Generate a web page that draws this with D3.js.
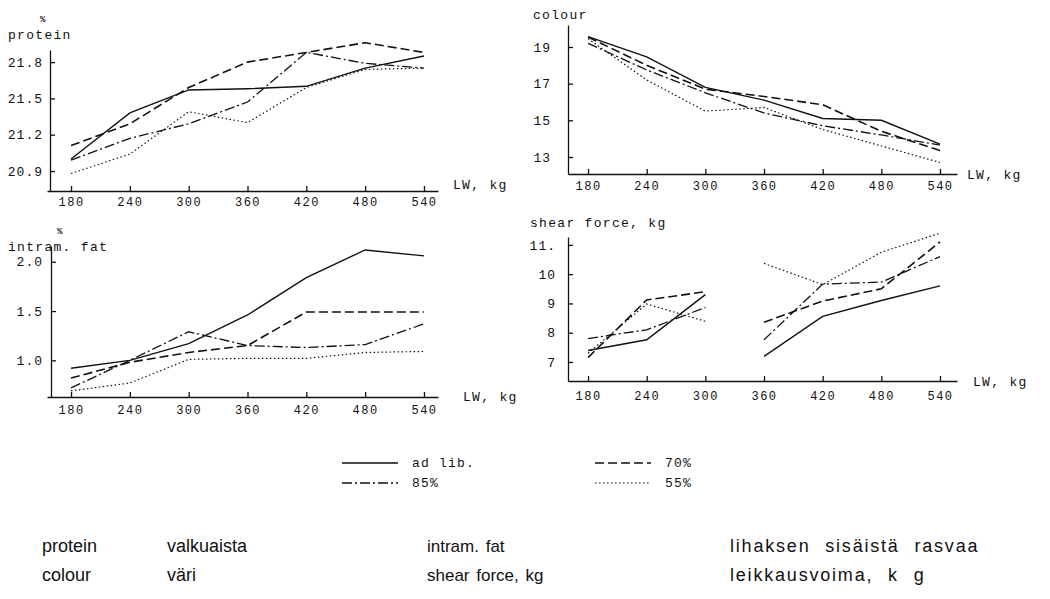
<!DOCTYPE html>
<html><head><meta charset="utf-8">
<script src="https://cdn.jsdelivr.net/npm/d3@7"></script>
<style>body{margin:0;background:#fff}svg{display:block}</style>
</head><body><svg id="c" width="1050" height="599"></svg>
<script>
// ---------- data ----------
const lw = [180, 240, 300, 360, 420, 480, 540];
const seriesNames = ["ad lib.", "70%", "85%", "55%"];

const proteinAdlib = [21.00, 21.38, 21.57, 21.58, 21.60, 21.75, 21.85];
const protein70    = [21.11, 21.29, 21.59, 21.80, 21.88, 21.96, 21.88];
const protein85    = [20.99, 21.17, 21.29, 21.47, 21.88, 21.79, 21.75];
const protein55    = [20.88, 21.04, 21.39, 21.30, 21.59, 21.74, 21.75];

const colourAdlib = [19.57, 18.46, 16.80, 16.10, 15.10, 15.00, 13.70];
const colour70    = [19.54, 18.00, 16.70, 16.30, 15.85, 14.40, 13.35];
const colour85    = [19.20, 17.75, 16.50, 15.40, 14.70, 14.20, 13.65];
const colour55    = [19.45, 17.20, 15.50, 15.70, 14.50, 13.60, 12.70];

const fatAdlib = [0.92, 1.00, 1.17, 1.46, 1.84, 2.12, 2.06];
const fat70    = [0.82, 0.98, 1.08, 1.15, 1.49, 1.49, 1.49];
const fat85    = [0.72, 1.00, 1.29, 1.15, 1.13, 1.16, 1.37];
const fat55    = [0.69, 0.77, 1.01, 1.02, 1.02, 1.08, 1.09];

const shearAdlib = [7.39, 7.76, 9.30, 7.19, 8.56, 9.10, 9.60];
const shear70    = [7.15, 9.12, 9.40, 8.36, 9.08, 9.50, 11.10];
const shear85    = [7.80, 8.10, 8.86, 7.76, 9.66, 9.73, 10.60];
const shear55    = [7.30, 8.98, 8.39, 10.37, 9.64, 10.75, 11.40];
const shearSegments = [[180, 240, 300], [360, 420, 480, 540]];

const proteinTicks = [20.9, 21.2, 21.5, 21.8];
const colourTicks = [13, 15, 17, 19];
const fatTicks = [1.0, 1.5, 2.0];
const shearTicks = [7, 8, 9, 10, 11];
const shearTickLabels = ["7", "8", "9", "10", "11."];

const footLeft = ["protein", "colour"];
const footLeftFi = ["valkuaista", "väri"];
const footRight = ["intram. fat", "shear force, kg"];
const footRightFi = ["lihaksen sisäistä rasvaa", "leikkausvoima, k g"];

// ---------- styles ----------
const MONO = "'Liberation Mono','DejaVu Sans Mono',monospace";
const styles = {
  "ad lib.": {dash: null, w: 1.4},
  "70%": {dash: "9,4", w: 1.6},
  "85%": {dash: "10,3,2,3", w: 1.3},
  "55%": {dash: "1.5,2.5", w: 1.2}
};

const svg = d3.select("#c");

const panels = [
  {title: "protein", pct: true, series: [proteinAdlib, protein70, protein85, protein55],
   ticks: proteinTicks, fmt: d3.format(".1f"), yDom: [20.735, 21.9], yRange: [191, 50],
   xDom: [155.5, 554.3], xRange: [47, 438], ax: 50, yPad: 7, xPad: 6,
   titlePos: [8, 39], pctPos: [40, 22], lwPos: [453, 189]},
  {title: "colour", pct: false, series: [colourAdlib, colour70, colour85, colour55],
   ticks: colourTicks, fmt: d3.format("d"), yDom: [12.07, 20.2], yRange: [174, 25],
   xDom: [159.5, 557.4], xRange: [568, 957], ax: 568, yPad: 17, xPad: 7,
   titlePos: [533, 19], lwPos: [967, 179]},
  {title: "intram. fat", pct: true, series: [fatAdlib, fat70, fat85, fat55],
   ticks: fatTicks, fmt: d3.format(".1f"), yDom: [0.628, 2.16], yRange: [397, 246],
   xDom: [155.5, 554.3], xRange: [47, 438], ax: 51, yPad: 8, xPad: 8,
   titlePos: [8, 251], pctPos: [57, 234], lwPos: [463, 401]},
  {title: "shear force, kg", pct: false, series: [shearAdlib, shear70, shear85, shear55],
   ticks: shearTicks, labels: shearTickLabels, yDom: [6.35, 11.27], yRange: [381, 237],
   xDom: [159.5, 557.4], xRange: [568, 957], ax: 568, yPad: 12, xPad: 10,
   titlePos: [530, 227], lwPos: [973, 386], segments: shearSegments}
];

panels.forEach(p => {
  const x = d3.scaleLinear().domain(p.xDom).range(p.xRange);
  const y = d3.scaleLinear().domain(p.yDom).range(p.yRange);
  const g = svg.append("g");

  // y axis
  const yAxis = d3.axisLeft(y).tickValues(p.ticks).tickSize(-5).tickSizeOuter(0).tickPadding(p.yPad);
  if (p.labels) yAxis.tickFormat((d, i) => p.labels[i]); else yAxis.tickFormat(p.fmt);
  const yg = g.append("g").attr("transform", `translate(${p.ax},0)`).call(yAxis);
  yg.selectAll("text").attr("font-family", MONO).attr("font-size", 13).style("letter-spacing", "1px").attr("fill", "#111");
  yg.selectAll("line,path").attr("stroke", "#111").attr("stroke-width", 1.3);

  // x axis
  const xAxis = d3.axisBottom(x).tickValues(lw).tickFormat(d3.format("d")).tickSize(-5).tickSizeOuter(0).tickPadding(p.xPad);
  const xg = g.append("g").attr("transform", `translate(0,${p.yRange[0]})`).call(xAxis);
  xg.selectAll("text").attr("font-family", MONO).attr("font-size", 12).style("letter-spacing", "1.5px").attr("fill", "#111");
  xg.selectAll("line,path").attr("stroke", "#111").attr("stroke-width", 1.3);

  // labels
  g.append("text").attr("x", p.titlePos[0]).attr("y", p.titlePos[1]).text(p.title)
    .attr("font-family", MONO).attr("font-size", 13).style("letter-spacing", "1.3px").attr("fill", "#111");
  if (p.pct) g.append("text").attr("x", p.pctPos[0]).attr("y", p.pctPos[1]).text("%")
    .attr("font-family", MONO).attr("font-size", 9).attr("font-weight", "bold").attr("fill", "#111");
  g.append("text").attr("x", p.lwPos[0]).attr("y", p.lwPos[1]).text("LW, kg")
    .attr("font-family", MONO).attr("font-size", 13).style("letter-spacing", "1.3px").attr("fill", "#111");

  // lines
  const line = d3.line().x(d => x(d[0])).y(d => y(d[1]));
  const segs = p.segments || [lw];
  p.series.forEach((vals, si) => {
    const st = styles[seriesNames[si]];
    const pts = lw.map((v, i) => [v, vals[i]]);
    segs.forEach(seg => {
      const sp = pts.filter(d => seg.includes(d[0]));
      g.append("path").datum(sp).attr("d", line).attr("fill", "none")
        .attr("stroke", "#111").attr("stroke-width", st.w)
        .attr("stroke-dasharray", st.dash);
    });
  });
});

// legend
const legendPos = [[342, 463], [595, 463], [342, 483], [595, 483]];
const legendOrder = ["ad lib.", "70%", "85%", "55%"];
legendOrder.forEach((name, i) => {
  const [lx, ly] = legendPos[i];
  const st = styles[name];
  svg.append("line").attr("x1", lx).attr("x2", lx + 56).attr("y1", ly).attr("y2", ly)
    .attr("stroke", "#111").attr("stroke-width", st.w).attr("stroke-dasharray", st.dash);
  svg.append("text").attr("x", lx + 70).attr("y", ly + 4).text(name)
    .attr("font-family", MONO).attr("font-size", 13).style("letter-spacing", "1.2px").attr("fill", "#111");
});

// footnote glossary
const FOOT = "'Liberation Sans',Arial,sans-serif";
const footCols = [
  {x: 42, texts: footLeft, size: 18, ls: 0, ws: 0},
  {x: 167, texts: footLeftFi, size: 18, ls: 0, ws: 0},
  {x: 427, texts: footRight, size: 17, ls: 0, ws: 2},
  {x: 730, texts: footRightFi, size: 18, ls: 1.8, ws: 8}
];
footCols.forEach(c => {
  c.texts.forEach((t, r) => {
    svg.append("text").attr("x", c.x).attr("y", 552 + r * 29).text(t)
      .attr("font-family", FOOT).attr("font-size", c.size)
      .style("letter-spacing", c.ls + "px").style("word-spacing", c.ws + "px").attr("fill", "#111");
  });
});
</script>
</body></html>
